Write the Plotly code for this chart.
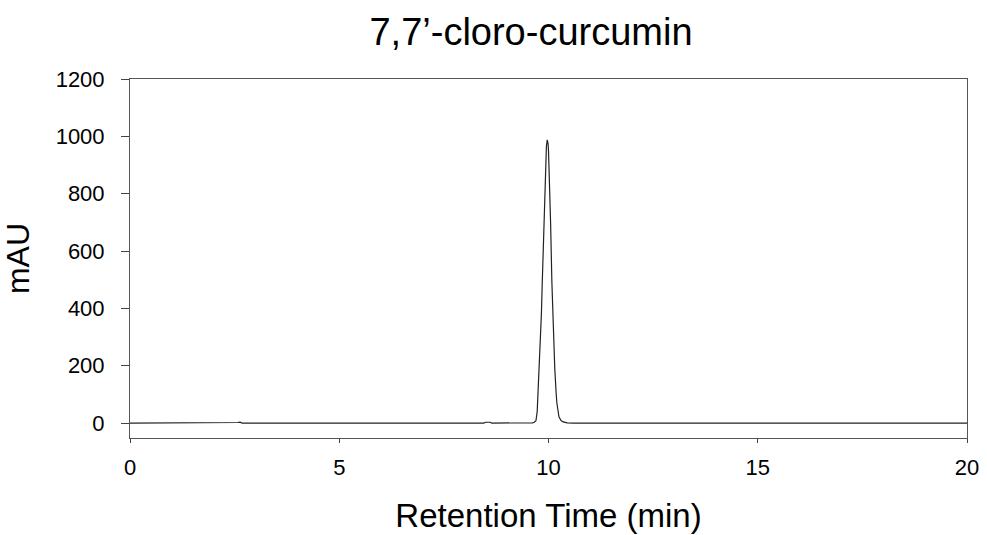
import plotly.graph_objects as go

# Retention time (min) and absorbance (mAU)
time_min = [0.0, 2.5, 2.58, 2.63, 2.68, 5.0, 8.45, 8.5, 8.55, 8.6, 8.65, 9.3, 9.55,
            9.62, 9.66, 9.7, 9.73, 9.75, 9.78, 9.8, 9.83, 9.85, 9.88, 9.9, 9.93,
            9.95, 9.97, 9.99, 10.0, 10.03, 10.05, 10.08, 10.1, 10.13, 10.15, 10.18,
            10.2, 10.25, 10.3, 10.35, 10.45, 10.6, 12.0, 15.0, 20.0]
mau = [0, 0, 2, 3, 0, 0, 0, 3, 4, 3, 0, 0, 0,
       1, 3, 8, 40, 110, 185, 240, 380, 485, 660, 775, 915,
       965, 988, 975, 950, 830, 700, 495, 400, 270, 190, 110,
       70, 22, 9, 4, 1, 0, 0, 0, 0]

x_ticks = [0, 5, 10, 15, 20]
y_ticks = [0, 200, 400, 600, 800, 1000, 1200]

font_family = "Liberation Sans, Arial, sans-serif"

fig = go.Figure()
fig.add_trace(go.Scatter(x=time_min, y=mau, mode="lines",
                         line=dict(color="#222222", width=1.2),
                         showlegend=False, hoverinfo="x+y"))

fig.update_layout(
    width=987, height=535,
    margin=dict(l=130, r=20, t=79, b=97),
    paper_bgcolor="white", plot_bgcolor="white",
    font=dict(family=font_family, color="black"),
    title=dict(text="7,7’-cloro-curcumin", x=0.538, xanchor="center",
               y=0.94, yanchor="middle", font=dict(size=38, family=font_family)),
    xaxis=dict(range=[0, 20], tickvals=x_ticks, ticks="outside", ticklen=4,
               tickcolor="#444", showline=True, linecolor="#555", linewidth=1,
               mirror=True, showgrid=False, zeroline=False, automargin=False,
               tickfont=dict(size=22), ticklabelstandoff=6,
               title=dict(text="Retention Time (min)", font=dict(size=33), standoff=24)),
    yaxis=dict(range=[-52, 1200], tickvals=y_ticks, ticks="outside", ticklen=8,
               tickcolor="#444", showline=True, linecolor="#555", linewidth=1,
               mirror=True, showgrid=False, zeroline=False, automargin=False,
               tickfont=dict(size=22), ticklabelstandoff=12,
               title=dict(text="mAU", font=dict(size=32), standoff=18)),
)

fig.write_html("out.html")
